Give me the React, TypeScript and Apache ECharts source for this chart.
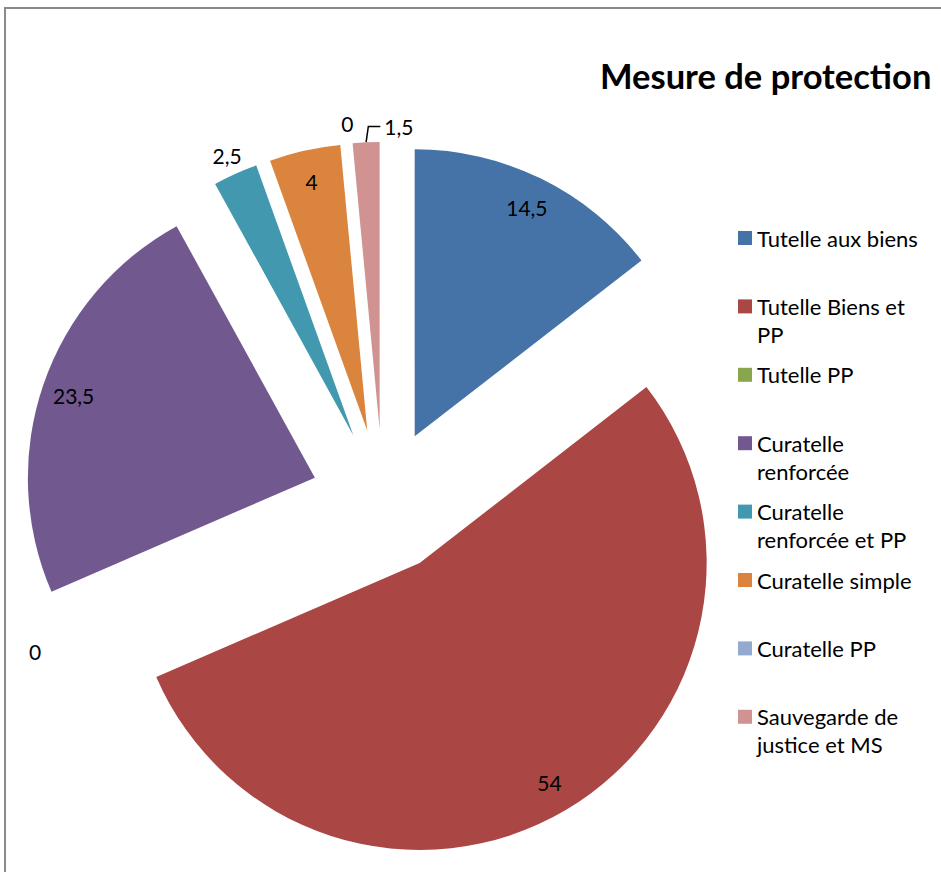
import React, { useEffect, useRef } from "react";
import * as echarts from "echarts";

const categories = [
  "Tutelle aux biens",
  "Tutelle Biens et PP",
  "Tutelle PP",
  "Curatelle renforcée",
  "Curatelle renforcée et PP",
  "Curatelle simple",
  "Curatelle PP",
  "Sauvegarde de justice et MS",
];
const legendLabels = [
  "Tutelle aux biens",
  "Tutelle Biens et\nPP",
  "Tutelle PP",
  "Curatelle\nrenforcée",
  "Curatelle\nrenforcée et PP",
  "Curatelle simple",
  "Curatelle PP",
  "Sauvegarde de\njustice et MS",
];
const values = [14.5, 54, 0, 23.5, 2.5, 4, 0, 1.5];
const colors = ["#4572A7", "#AA4643", "#89A54E", "#71588F", "#4198AF", "#DB843D", "#93A9CF", "#D19392"];
const insideLabelIdx = [0, 1, 3, 5];
const outerLabelIdx = [2, 4, 6];
const leaderLabelIdx = [7];
const titleText = "Mesure de protection";

const FONT = "Lato, 'Open Sans', sans-serif";
const LABEL_SIZE = 21;
const fmt = (v: number) => String(v).replace(".", ",");

export default function App() {
  const ref = useRef<HTMLDivElement>(null);
  useEffect(() => {
    if (!ref.current) return;
    const chart = echarts.init(ref.current, undefined, { renderer: "svg" });
    const center = [383, 501];
    const offset = 72;
    const common = {
      type: "pie",
      center,
      startAngle: 90,
      clockwise: true,
      selectedMode: "multiple",
      selectedOffset: offset,
      avoidLabelOverlap: false,
      emphasis: { disabled: true, scale: false },
      select: { itemStyle: { borderWidth: 0 } },
      labelLayout: { hideOverlap: false },
    };
    const legends = categories.map((name, i) => {
      const twoLine = legendLabels[i].includes("\n");
      const y = 238 + i * 68.4;
      return {
        data: [name],
        left: 738,
        top: y - (twoLine ? 42 : 14),
        orient: "vertical",
        itemWidth: 14,
        itemHeight: 14,
        itemGap: 0,
        padding: 0,
        selectedMode: false,
        icon: "rect",
        formatter: () => (twoLine ? "\n" + legendLabels[i] : legendLabels[i]),
        textStyle: {
          fontSize: 22,
          lineHeight: 28,
          fontFamily: FONT,
          color: "#000",
        },
      };
    });
    const transparent = "rgba(0,0,0,0)";
    chart.setOption({
      animation: false,
      title: {
        text: titleText,
        left: 600,
        top: 58,
        padding: 0,
        textStyle: { fontSize: 34.5, fontWeight: "bold", fontFamily: FONT, color: "#000" },
      },
      legend: legends,
      graphic: [
        {
          type: "rect",
          z: -10,
          shape: { x: 5, y: 8, width: 1200, height: 1200 },
          style: { fill: "none", stroke: "#8a8a8a", lineWidth: 2 },
          silent: true,
        },
      ],
      series: [
        {
          ...common,
          radius: [0, 287],
          data: values.map((v, i) => ({
            name: categories[i],
            value: v,
            selected: true,
            itemStyle: { color: colors[i] },
            label: {
              show: leaderLabelIdx.includes(i),
              position: "outside",
              formatter: (p: any) => fmt(p.value),
              fontSize: LABEL_SIZE,
              fontFamily: FONT,
              color: "#000",
            },
            labelLine: {
              show: leaderLabelIdx.includes(i),
              length: 16,
              length2: 12,
              lineStyle: { color: "#000", width: 1.5 },
            },
          })),
          labelLayout: (params: any) => {
            if (!leaderLabelIdx.includes(params.dataIndex)) return { hideOverlap: false };
            const pts = params.labelLinePoints;
            const lr = params.labelRect;
            if (!pts || !lr) return {};
            const p0 = pts[0];
            const p1 = [pts[1][0] + 3, pts[1][1]];
            const p2 = [p1[0] + 12, p1[1]];
            const anchor = lr.x + lr.width;
            return {
              dx: p2[0] + 4 - anchor,
              align: "left",
              labelLinePoints: [p0, p1, p2],
            };
          },
        },
        {
          ...common,
          silent: true,
          radius: [232, 272],
          data: values.map((v, i) => ({
            name: categories[i],
            value: v,
            selected: true,
            itemStyle: { color: transparent },
            label: {
              show: insideLabelIdx.includes(i),
              position: "inside",
              formatter: (p: any) => fmt(p.value),
              fontSize: LABEL_SIZE,
              fontFamily: FONT,
              color: "#000",
            },
            labelLine: { show: false },
          })),
        },
        {
          ...common,
          silent: true,
          radius: [294, 314],
          data: values.map((v, i) => ({
            name: categories[i],
            value: v,
            selected: true,
            itemStyle: { color: transparent },
            label: {
              show: outerLabelIdx.includes(i),
              position: "inside",
              formatter: (p: any) => fmt(p.value),
              fontSize: LABEL_SIZE,
              fontFamily: FONT,
              color: "#000",
            },
            labelLine: { show: false },
          })),
        },
      ],
    });
    return () => chart.dispose();
  }, []);
  return (
    <div
      ref={ref}
      style={{ position: "fixed", left: 0, top: 0, width: 941, height: 872, background: "#fff" }}
    />
  );
}
